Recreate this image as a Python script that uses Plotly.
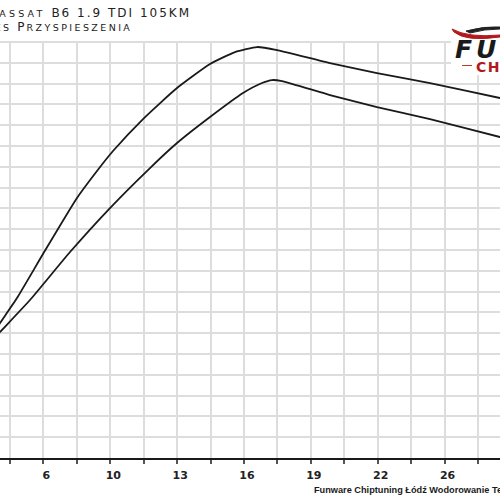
import plotly.graph_objects as go

# ---- data (x in grid steps of the horizontal axis, y in grid steps of the vertical axis)
upper_x = [-0.598, -0.299, 0.209, 0.987, 2.004, 2.602, 3.081, 3.979, 4.996, 5.983,
           6.731, 7.389, 7.987, 9.572, 10.978, 12.564, 14.657, 14.956]
upper_y = [5.769, 6.490, 7.692, 9.808, 12.500, 13.798, 14.760, 16.298, 17.788, 18.942,
           19.519, 19.760, 19.615, 18.990, 18.510, 18.029, 17.308, 17.212]

lower_x = [-0.598, -0.299, 0.598, 1.795, 2.991, 4.188, 4.996, 5.983, 6.970, 7.538,
           7.837, 8.136, 9.572, 10.978, 12.564, 14.657, 14.956]
lower_y = [5.529, 6.058, 7.596, 9.904, 12.019, 13.942, 15.144, 16.394, 17.548, 18.029,
           18.173, 18.125, 17.452, 16.875, 16.298, 15.433, 15.337]

tick_vals = list(range(0, 15))
tick_text = ['', '6', '', '10', '', '13', '', '16', '', '19', '', '22', '', '26', '']

BIG = "font-size:12px;letter-spacing:2px"
SMALL1 = "font-size:9.5px;letter-spacing:3.2px"
SMALL2 = "font-size:9.5px;letter-spacing:2.4px"
title_line1 = (f"<span style='{BIG}'>P</span><span style='{SMALL1}'>ASSAT</span>"
               f"<span style='{BIG}'> B6 1.9 TDI 105KM</span>")
title_line2 = (f"<span style='{BIG}'>W</span><span style='{SMALL2}'>YKRES</span>"
               f"<span style='{BIG}'> P</span><span style='{SMALL2}'>RZYSPIESZENIA</span>")
footer_text = "Funware Chiptuning Łódź Wodorowanie Tel. 000 000 000"

W, H = 500, 500
T, B = 41, 42


def px(x):
    return x / W


def py(y):
    return (H - B - y) / (H - T - B)


fig = go.Figure()
line_style = dict(color='#1a1a1a', width=1.8, shape='spline', smoothing=0.5)
fig.add_trace(go.Scatter(x=upper_x, y=upper_y, mode='lines', line=line_style,
                         showlegend=False, hoverinfo='skip'))
fig.add_trace(go.Scatter(x=lower_x, y=lower_y, mode='lines', line=line_style,
                         showlegend=False, hoverinfo='skip'))

shapes = [
    # white logo background
    dict(type='rect', xref='paper', yref='paper', x0=px(451), x1=px(505), y0=py(75), y1=py(-5),
         fillcolor='white', line=dict(width=0), layer='above'),
    # red swoosh
    dict(type='path', xref='paper', yref='paper', layer='above',
         path=(f"M {px(452)},{py(29)} Q {px(468)},{py(38)} {px(500)},{py(35)} "
               f"L {px(500)},{py(37)} Q {px(466)},{py(42)} {px(454)},{py(32)} Z"),
         fillcolor='#b3191c', line=dict(color='#b3191c', width=1)),
    dict(type='path', xref='paper', yref='paper', layer='above',
         path=(f"M {px(466)},{py(31)} Q {px(484)},{py(26)} {px(500)},{py(27)} "
               f"L {px(500)},{py(29)} Q {px(484)},{py(29)} {px(470)},{py(33)} Z"),
         fillcolor='#222', line=dict(color='#222', width=1)),
    # red dash before CHIPTUNING
    dict(type='line', xref='paper', yref='paper', layer='above',
         x0=px(462), x1=px(472), y0=py(65.5), y1=py(65.5), line=dict(color='#c0392b', width=1)),
]

annotations = [
    dict(text=title_line1, xref='paper', yref='paper', x=px(193), y=py(13), xanchor='right',
         yanchor='middle', showarrow=False,
         font=dict(family='DejaVu Sans', size=12, color='#222')),
    dict(text=title_line2, xref='paper', yref='paper', x=px(134), y=py(27), xanchor='right',
         yanchor='middle', showarrow=False,
         font=dict(family='DejaVu Sans', size=12, color='#222')),
    dict(text=footer_text, xref='paper', yref='paper', x=px(312), y=py(490), xanchor='left',
         yanchor='middle', showarrow=False,
         font=dict(family='Liberation Sans', size=9.2, color='#1a1a1a', weight='bold')),
    dict(text="<i><span style='letter-spacing:4px'>FUNWARE</span></i>", xref='paper',
         yref='paper', x=px(453), y=py(50), xanchor='left', yanchor='middle', showarrow=False,
         font=dict(family='DejaVu Sans', size=25, color='#1a1a1a', weight='bold')),
    dict(text="<span style='letter-spacing:1.5px'>CHIPTUNING</span>", xref='paper',
         yref='paper', x=px(474), y=py(67), xanchor='left', yanchor='middle', showarrow=False,
         font=dict(family='DejaVu Sans', size=14, color='#b3191c', weight='bold')),
]

fig.update_layout(
    width=W, height=H, autosize=False,
    margin=dict(l=0, r=0, t=T, b=B, pad=0),
    paper_bgcolor='white', plot_bgcolor='white',
    shapes=shapes, annotations=annotations,
    xaxis=dict(range=[-10 / 33.43, 490 / 33.43], tickmode='array', tickvals=tick_vals,
               ticktext=tick_text, showgrid=True, gridcolor='#dddddd', gridwidth=1.5,
               zeroline=False, showline=True, linecolor='#1a1a1a', linewidth=2,
               ticks='outside', ticklen=4, tickwidth=1.5, tickcolor='#555',
               tickfont=dict(family='DejaVu Sans', size=11, color='#222', weight='bold'),
               ticklabelstandoff=2, ticklabelshift=3, fixedrange=True),
    yaxis=dict(range=[0, 20.05], dtick=1, tick0=0, showgrid=True, gridcolor='#dddddd',
               gridwidth=1.5, zeroline=False, showline=False, showticklabels=False,
               ticks='', fixedrange=True),
)

fig.write_html("out.html", config={'displayModeBar': False},
               post_script="document.body.style.margin='0';")
